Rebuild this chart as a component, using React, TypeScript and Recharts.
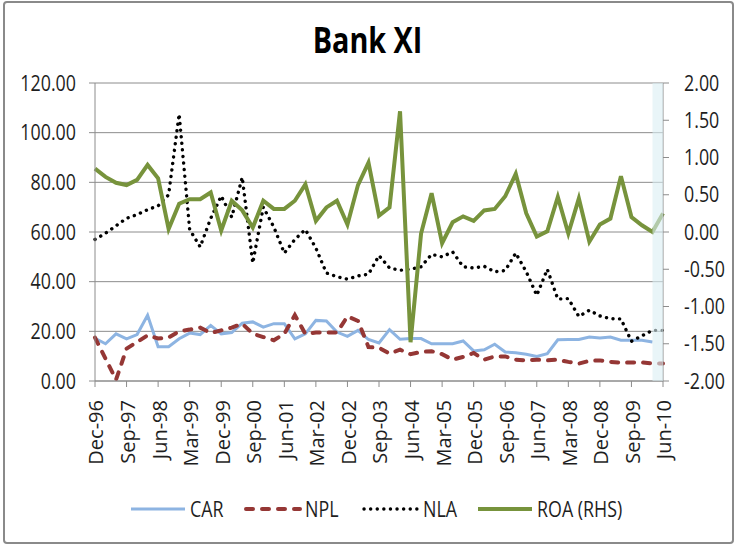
import {
  LineChart, Line, XAxis, YAxis, CartesianGrid, ReferenceArea,
} from 'recharts'

const QUARTERS = [
  'Dec-96', 'Mar-97', 'Jun-97', 'Sep-97', 'Dec-97', 'Mar-98', 'Jun-98', 'Sep-98',
  'Dec-98', 'Mar-99', 'Jun-99', 'Sep-99', 'Dec-99', 'Mar-00', 'Jun-00', 'Sep-00',
  'Dec-00', 'Mar-01', 'Jun-01', 'Sep-01', 'Dec-01', 'Mar-02', 'Jun-02', 'Sep-02',
  'Dec-02', 'Mar-03', 'Jun-03', 'Sep-03', 'Dec-03', 'Mar-04', 'Jun-04', 'Sep-04',
  'Dec-04', 'Mar-05', 'Jun-05', 'Sep-05', 'Dec-05', 'Mar-06', 'Jun-06', 'Sep-06',
  'Dec-06', 'Mar-07', 'Jun-07', 'Sep-07', 'Dec-07', 'Mar-08', 'Jun-08', 'Sep-08',
  'Dec-08', 'Mar-09', 'Jun-09', 'Sep-09', 'Dec-09', 'Mar-10', 'Jun-10',
]

// left axis (%)
const CAR = [
  17.2, 15, 19, 17, 18.7, 26.5, 13.8, 13.8, 17, 19.3, 18.7, 22.4, 19, 19.5,
  23.3, 23.8, 21.7, 23.1, 23.1, 17, 19, 24.4, 24.2, 19.7, 18, 20.4, 16.7, 15.3,
  20.7, 16.8, 17.1, 17.1, 15, 15, 15, 16.1, 12.1, 12.6, 14.8, 11.7, 11.4, 10.8,
  9.9, 11, 16.6, 16.7, 16.7, 17.7, 17.3, 17.7, 16.4, 16.4, 16.4, 15.7, null,
]
const NPL = [
  17.5, 9, 0.5, 13, 15.7, 18.4, 17.1, 17.5, 20, 20.7, 21.5, 19.3, 20.4, 21.5,
  23.1, 19, 17.7, 16.4, 19, 26.5, 19, 19.5, 19.5, 19.5, 26, 24.2, 13.7, 13.4,
  11, 12.6, 10.8, 11.7, 12, 10.8, 8.6, 9.7, 11.3, 8.6, 9.9, 9.9, 8.6, 8.2,
  8.6, 8.3, 8.6, 7.7, 7, 8.1, 8.3, 7.7, 7.3, 7.5, 7.5, 7, 7,
]
const NLA = [
  57, 59.5, 62.5, 65.5, 67, 69, 70.5, 75, 107.5, 61, 54, 65.5, 74.5, 66,
  82, 47.5, 70, 62, 51.5, 57, 61, 53.5, 43.5, 42, 41, 42.3, 43, 50.5,
  45.5, 44.6, 45, 46, 51, 50, 52, 46, 45.5, 46.2, 44, 44.5, 51.5, 44,
  34.5, 45, 33, 33.2, 26, 28.5, 26.2, 25.1, 25, 16, 18.2, 20.4, 20.4,
]
// right axis
const ROA = [
  0.85, 0.74, 0.66, 0.63, 0.7, 0.9, 0.72, 0.04, 0.38, 0.44, 0.44, 0.53, 0.02, 0.42,
  0.29, 0.06, 0.42, 0.31, 0.31, 0.42, 0.64, 0.15, 0.33, 0.42, 0.1, 0.63, 0.93, 0.22,
  0.33, 1.62, -1.48, -0.02, 0.52, -0.15, 0.13, 0.21, 0.15, 0.29, 0.31, 0.48, 0.78, 0.25,
  -0.06, 0.01, 0.47, -0.02, 0.45, -0.13, 0.1, 0.18, 0.75, 0.2, 0.09, 0, 0.25,
]

const LEFT_TICKS = [0, 20, 40, 60, 80, 100, 120]
const RIGHT_TICKS = [-2, -1.5, -1, -0.5, 0, 0.5, 1, 1.5, 2]

const FONT = '"Open Sans", sans-serif'
const AXIS = '#8c8c8c'
const TEXT = '#1e1e1e'
const BLUE = '#8db4e2'
const RED = '#953735'
const GREEN = '#77933c'
const DOTS = '0.1 6.5'

const data = QUARTERS.map((q, i) => ({
  q, CAR: CAR[i], NPL: NPL[i], NLA: NLA[i], ROA: ROA[i],
}))

function LeftTick({ x, y, payload }: any) {
  return (
    <text transform={`translate(${x},${y}) scale(0.85,1)`} textAnchor="end" dy="0.36em"
      fontSize={21} fontFamily={FONT} fill={TEXT}>
      {Number(payload.value).toFixed(2)}
    </text>
  )
}

function RightTick({ x, y, payload }: any) {
  return (
    <text transform={`translate(${x},${y}) scale(0.85,1)`} textAnchor="start" dy="0.36em"
      fontSize={21} fontFamily={FONT} fill={TEXT}>
      {Number(payload.value).toFixed(2)}
    </text>
  )
}

function QuarterTick({ x, y, payload }: any) {
  return (
    <g transform={`translate(${x},${y})`}>
      <text transform="rotate(-90)" x={-11} dy="0.42em" textAnchor="end"
        fontSize={20} fontFamily={FONT} fill={TEXT}>
        {payload.value}
      </text>
    </g>
  )
}

const LEGEND = [
  { name: 'CAR', color: BLUE, width: 3, dash: undefined, left: 131 },
  { name: 'NPL', color: RED, width: 4, dash: '7 9', left: 246 },
  { name: 'NLA', color: '#000', width: 3.4, dash: DOTS, left: 364 },
  { name: 'ROA (RHS)', color: GREEN, width: 4, dash: undefined, left: 478 },
]

export default function App() {
  return (
    <div style={{ position: 'relative', width: 735, height: 546, background: '#fff' }}>
      <style>{'body{margin:0}'}</style>
      <LineChart width={735} height={546} data={data} margin={{ top: 83, right: 0, bottom: 75, left: 0 }}>
        <CartesianGrid yAxisId="left" vertical={false} stroke={AXIS} />
        <XAxis dataKey="q" interval={2} height={90} tickSize={6}
          tick={<QuarterTick />} axisLine={{ stroke: AXIS }} tickLine={{ stroke: AXIS }} />
        <YAxis yAxisId="left" width={95} domain={[0, 120]} ticks={LEFT_TICKS} tickSize={6} tickMargin={13}
          tick={<LeftTick />} axisLine={{ stroke: AXIS }} tickLine={{ stroke: AXIS }} />
        <YAxis yAxisId="right" orientation="right" width={72} domain={[-2, 2]} ticks={RIGHT_TICKS}
          tickSize={6} tickMargin={15} tick={<RightTick />} axisLine={{ stroke: AXIS }} tickLine={{ stroke: AXIS }} />
        <Line yAxisId="left" dataKey="CAR" stroke={BLUE} strokeWidth={3} dot={false} activeDot={false}
          isAnimationActive={false} />
        <Line yAxisId="left" dataKey="NPL" stroke={RED} strokeWidth={4} strokeDasharray="7 9"
          strokeLinecap="round" dot={false} activeDot={false} isAnimationActive={false} />
        <Line yAxisId="left" dataKey="NLA" stroke="#000" strokeWidth={3.4} strokeDasharray={DOTS}
          strokeLinecap="round" dot={false} activeDot={false} isAnimationActive={false} />
        <Line yAxisId="right" dataKey="ROA" stroke={GREEN} strokeWidth={4} dot={false} activeDot={false}
          isAnimationActive={false} />
        <ReferenceArea yAxisId="left" x1="Mar-10" x2="Jun-10" fill="#dbeef3" fillOpacity={0.6} zIndex={600} />
      </LineChart>
      <svg width={735} height={546} style={{ position: 'absolute', left: 0, top: 0, pointerEvents: 'none' }}>
        <text transform="translate(367.5,52.7) scale(0.8,1)" textAnchor="middle" fontSize={36}
          fontWeight={700} fontFamily={FONT} fill="#000">Bank XI</text>
        {LEGEND.map(item => (
          <g key={item.name}>
            <line x1={item.left} x2={item.left + 54} y1={509} y2={509} stroke={item.color}
              strokeWidth={item.width} strokeDasharray={item.dash}
              strokeLinecap={item.dash ? 'round' : 'butt'} />
            <text transform={`translate(${item.left + 59},509) scale(0.85,1)`} dy="0.36em"
              fontSize={21} fontFamily={FONT} fill={TEXT}>{item.name}</text>
          </g>
        ))}
        <rect x={4} y={2} width={729} height={541} rx={3} fill="none" stroke="#8a8a8a" strokeWidth={2} />
      </svg>
    </div>
  )
}
